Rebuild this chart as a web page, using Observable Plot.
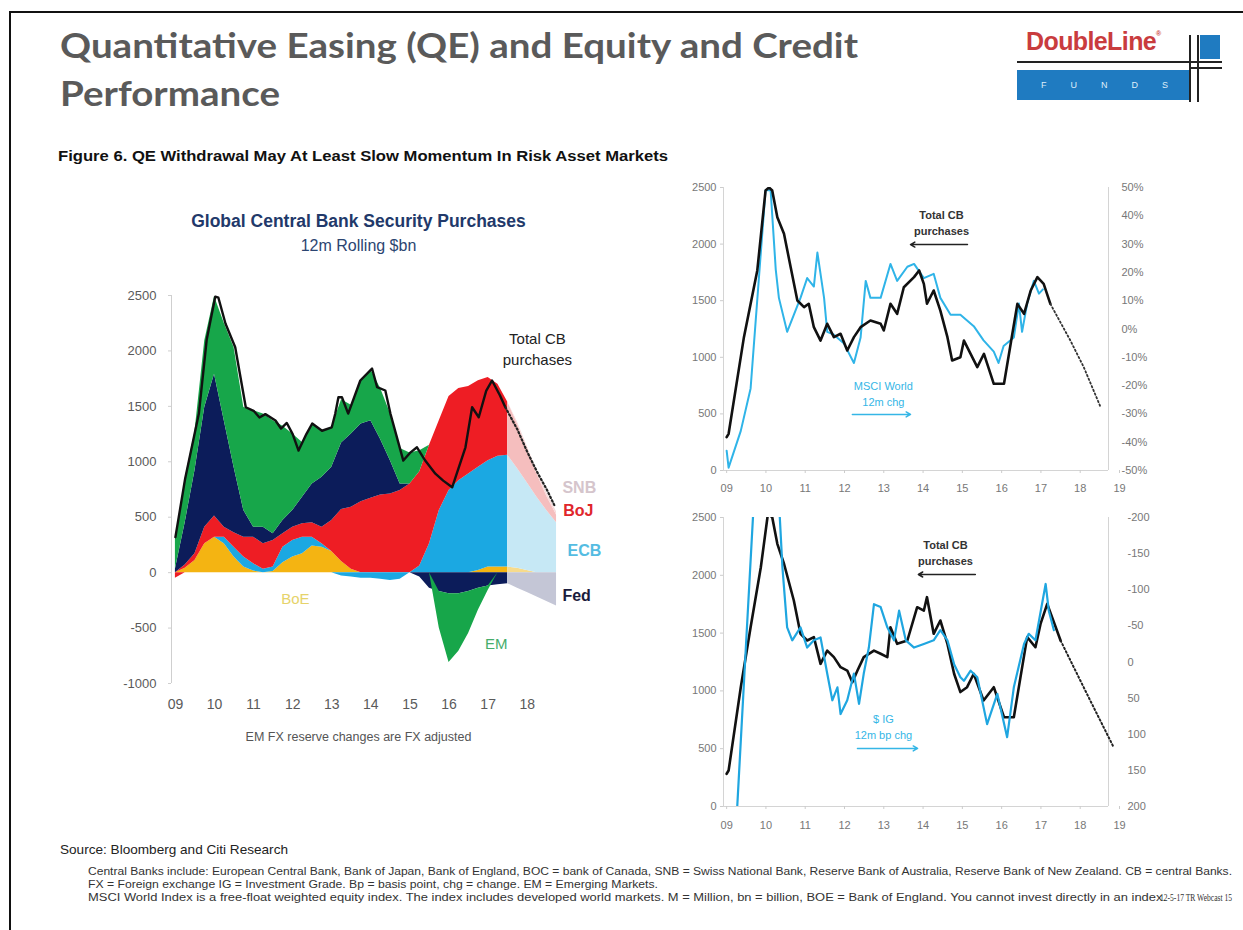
<!DOCTYPE html>
<html><head><meta charset="utf-8">
<script src="https://cdn.jsdelivr.net/npm/d3@7"></script>
<script src="https://cdn.jsdelivr.net/npm/@observablehq/plot@0.6"></script>
<style>
html,body{margin:0;padding:0;background:#fff;}
body{width:1243px;height:930px;position:relative;overflow:hidden;font-family:"Liberation Sans",Arial,sans-serif;}
.abs{position:absolute;white-space:nowrap;}
.fit{transform-origin:left center;}
#borderTop{left:9px;top:11px;width:1234px;height:2px;background:#111;}
#borderLeft{left:9px;top:11px;width:2px;height:919px;background:#111;}
#title1,#title2{left:60px;font-family:Lato,sans-serif;font-weight:700;font-size:34px;line-height:40px;color:#5a5a5a;}
#title1{top:25px;} #title2{top:73px;}
#logoText{left:1026px;top:27px;font-weight:700;font-size:25px;color:#C93C3E;letter-spacing:-0.6px;}
#logoText sup{font-size:7px;vertical-align:top;position:relative;top:3px;}
#logoLine1{left:1017px;top:61px;width:205px;height:2px;background:#222;}
#logoLine2{left:1190px;top:67px;width:32px;height:2px;background:#222;}
#logoBox{left:1017px;top:70px;width:173px;height:30px;background:#1F7BC1;color:#dfeefa;font-size:9px;line-height:31px;text-align:center;letter-spacing:24px;text-indent:24px;}
#logoV1{left:1189px;top:35px;width:2px;height:67px;background:#222;}
#logoV2{left:1197px;top:35px;width:2px;height:67px;background:#222;}
#logoBar{left:1200px;top:35px;width:20px;height:24px;background:#1F7BC1;}
#fig{left:58px;top:148px;font-weight:700;font-size:14px;color:#111;}
#lt1{left:100px;top:211px;width:517px;text-align:center;font-weight:700;font-size:17.5px;color:#22396A;}
#lt2{left:100px;top:237px;width:517px;text-align:center;font-size:16px;color:#2C4571;}
#lnote{left:100px;top:730px;width:517px;text-align:center;font-size:12.5px;color:#555;}
#src{left:60px;top:842px;font-size:13.5px;color:#222;}
.foot{left:88px;font-size:10px;color:#333;}
#f1{top:866px;} #f2{top:879px;} #f3{top:892px;}
#web{left:1160px;top:891px;font-size:11px;color:#333;font-family:"Liberation Serif",serif;}
#leftChart{left:100px;top:280px;}
#topChart{left:640px;top:175px;}
#botChart{left:640px;top:505px;}
</style></head>
<body>
<div class="abs" id="borderTop"></div>
<div class="abs" id="borderLeft"></div>
<div class="abs fit" id="title1">Quantitative Easing (QE) and Equity and Credit</div>
<div class="abs fit" id="title2">Performance</div>
<div class="abs" id="logoText">DoubleLine<sup>®</sup></div>
<div class="abs" id="logoLine1"></div>
<div class="abs" id="logoLine2"></div>
<div class="abs" id="logoBox">FUNDS</div>
<div class="abs" id="logoV1"></div>
<div class="abs" id="logoV2"></div>
<div class="abs" id="logoBar"></div>
<div class="abs fit" id="fig">Figure 6. QE Withdrawal May At Least Slow Momentum In Risk Asset Markets</div>
<div class="abs" id="lt1">Global Central Bank Security Purchases</div>
<div class="abs" id="lt2">12m Rolling $bn</div>
<div class="abs" id="lnote">EM FX reserve changes are FX adjusted</div>
<div class="abs fit" id="src">Source: Bloomberg and Citi Research</div>
<div class="abs fit foot" id="f1">Central Banks include: European Central Bank, Bank of Japan,  Bank of England, BOC = bank of Canada,  SNB = Swiss National Bank, Reserve Bank of Australia, Reserve Bank of  New Zealand.  CB = central Banks.</div>
<div class="abs fit foot" id="f2">FX = Foreign exchange IG = Investment Grade. Bp = basis point, chg = change. EM = Emerging Markets.</div>
<div class="abs fit foot" id="f3">MSCI World  Index is a free-float weighted equity index. The index includes developed world markets. M = Million, bn = billion, BOE = Bank of England. You cannot  invest directly in an index.</div>
<div class="abs fit" id="web">12-5-17 TR Webcast 15</div>
<div class="abs" id="leftChart"></div>
<div class="abs" id="topChart"></div>
<div class="abs" id="botChart"></div>
<script>
// ---------------- LEFT CHART DATA (12m rolling $bn) ----------------
const tQ = [2009.00,2009.25,2009.50,2009.75,2010.00,2010.25,2010.50,2010.75,2011.00,2011.25,2011.50,2011.75,2012.00,2012.25,2012.50,2012.75,2013.00,2013.25,2013.50,2013.75,2014.00,2014.25,2014.50,2014.75,2015.00,2015.25,2015.50,2015.75,2016.00,2016.25,2016.50,2016.75,2017.00,2017.25,2017.50];
const boe = [0,40,110,260,320,260,140,50,15,0,10,90,140,170,240,230,190,100,30,0,0,0,0,0,0,0,0,0,0,0,0,20,50,50,50];
const ecb = [0,0,0,0,0,60,90,90,65,30,40,140,150,150,80,30,0,-30,-40,-50,-50,-60,-70,-60,0,60,260,560,740,830,890,930,960,1000,1010];
const boj = [-50,30,60,150,190,90,130,180,240,230,240,120,120,120,130,150,280,470,560,640,670,700,710,740,800,850,890,810,850,830,790,780,750,650,480];
const fed = [30,380,750,1080,1280,960,590,240,90,150,60,120,150,240,350,450,480,600,660,700,700,500,300,60,0,-40,-140,-170,-190,-190,-170,-140,-120,-110,-100];
const em  = [270,400,350,600,700,880,1080,930,1050,1020,1020,850,690,495,540,420,360,390,260,400,460,460,425,320,280,190,0,-330,-620,-520,-380,-200,-40,0,0];

// projection (lighter colours)
const tP    = [2017.50,2017.75,2018.00,2018.25,2018.50,2018.75];
const boeP  = [50,40,20,0,0,0];
const ecbP  = [1010,900,790,680,560,450];
const bojP  = [480,400,300,210,130,70];
const snbP  = [0,20,30,30,30,30];
const fedP  = [-100,-140,-180,-220,-260,-300];

// Total CB purchases (black line)
const tTot  = [2009.00,2009.25,2009.60,2009.80,2010.02,2010.10,2010.28,2010.53,2010.80,2011.00,2011.15,2011.30,2011.56,2011.70,2011.85,2012.00,2012.15,2012.35,2012.50,2012.75,2013.00,2013.09,2013.17,2013.26,2013.42,2013.73,2014.03,2014.16,2014.37,2014.50,2014.83,2015.00,2015.18,2015.39,2015.65,2015.85,2016.08,2016.42,2016.59,2016.76,2016.95,2017.10,2017.30,2017.44];
const total = [320,850,1435,2100,2490,2480,2247,2033,1492,1460,1400,1430,1372,1300,1350,1250,1101,1250,1345,1280,1311,1435,1582,1582,1435,1733,1841,1673,1643,1435,1011,1080,1131,1011,893,830,770,1131,1492,1402,1640,1733,1600,1492];
const tTotP  = [2017.44,2017.75,2018.00,2018.25,2018.50,2018.72];
const totalP = [1492,1290,1090,910,750,589];

const leftTicksY = [-1000,-500,0,500,1000,1500,2000,2500];
const yearTicks = [2009,2010,2011,2012,2013,2014,2015,2016,2017,2018];

const solidColor = {BoE:"#F4B412", ECB:"#1BA8E2", BoJ:"#EE1D24", Fed:"#0C1C5A", EM:"#17A64A"};
const projColor  = {BoE:"#F7DB8C", ECB:"#C6E8F5", BoJ:"#F5BEBE", SNB:"#F8DADA", Fed:"#C4C6D6"};

// ---------------- RIGHT TOP: MSCI World 12m chg (%) ----------------
const tCbTop = [2009.00,2009.05,2009.44,2009.78,2009.99,2010.08,2010.16,2010.29,2010.46,2010.63,2010.80,2010.97,2011.09,2011.22,2011.39,2011.56,2011.73,2011.90,2012.07,2012.24,2012.41,2012.66,2012.92,2013.00,2013.17,2013.34,2013.51,2013.77,2013.90,2014.02,2014.10,2014.27,2014.44,2014.62,2014.74,2014.95,2015.04,2015.21,2015.38,2015.55,2015.80,2016.06,2016.23,2016.40,2016.57,2016.74,2016.91,2017.07,2017.24];
const cbTop  = [294,324,1178,1767,2473,2500,2473,2238,2091,1796,1502,1443,1473,1266,1148,1296,1178,1208,1060,1178,1266,1325,1296,1237,1473,1384,1619,1708,1767,1649,1473,1590,1413,1178,972,1001,1148,1031,913,1031,766,766,1119,1472,1384,1590,1708,1649,1472];
const tCbTopP = [2017.24,2017.75,2018.09,2018.52];
const cbTopP  = [1472,1148,913,559];
const tMsci = [2009.00,2009.05,2009.36,2009.61,2009.87,2009.99,2010.12,2010.25,2010.33,2010.54,2010.71,2010.88,2011.05,2011.22,2011.31,2011.48,2011.56,2011.73,2011.98,2012.24,2012.41,2012.54,2012.66,2012.92,2013.17,2013.34,2013.60,2013.77,2014.02,2014.27,2014.44,2014.70,2014.95,2015.29,2015.54,2015.80,2015.92,2016.05,2016.31,2016.44,2016.52,2016.65,2016.82,2016.95,2017.05];
const msciPct = [-43,-49,-36,-21,27,49,49,21,11,-1,5,11,18,15,27,11,-1,-2,-5,-12,-3,17,11,11,23,17,22,23,18,19.5,11,5,5,1,-4,-8,-12,-6,-3,9,-1,9,17,12.5,14];
const pctTicks = [-50,-40,-30,-20,-10,0,10,20,30,40,50];

// ---------------- RIGHT BOTTOM: $ IG 12m bp chg ----------------
const tCbBot = [2009.00,2009.05,2009.36,2009.61,2009.87,2010.05,2010.16,2010.29,2010.46,2010.71,2010.88,2011.05,2011.22,2011.39,2011.56,2011.73,2011.90,2012.07,2012.20,2012.33,2012.49,2012.75,2012.92,2013.09,2013.17,2013.34,2013.60,2013.85,2014.02,2014.10,2014.27,2014.44,2014.62,2014.79,2014.95,2015.12,2015.29,2015.54,2015.80,2016.06,2016.31,2016.48,2016.65,2016.86,2016.99,2017.16,2017.50];
const cbBot  = [283,311,1032,1551,2070,2530,2503,2272,2100,1782,1494,1436,1465,1234,1349,1292,1205,1176,1075,1176,1292,1349,1321,1292,1551,1407,1436,1724,1695,1811,1494,1609,1407,1148,990,1032,1148,917,1032,772,772,1119,1465,1378,1580,1753,1436];
const tCbBotP = [2017.50,2018.17,2018.85];
const cbBotP  = [1436,975,513];
const tIG = [2009.15,2009.27,2009.48,2009.70,2010.00,2010.33,2010.42,2010.54,2010.67,2010.88,2011.05,2011.22,2011.39,2011.56,2011.69,2011.82,2011.90,2012.07,2012.24,2012.37,2012.49,2012.62,2012.75,2012.92,2013.09,2013.26,2013.39,2013.56,2013.77,2014.02,2014.27,2014.44,2014.62,2014.79,2014.95,2015.04,2015.21,2015.38,2015.63,2015.89,2016.14,2016.31,2016.57,2016.69,2016.86,2017.12,2017.20,2017.33];
const igBp = [300,200,-11,-230,-300,-224,-131,-48,-30,-48,-20,-30,-34,16,53,35,72,53,16,58,16,-20,-80,-76,-48,-30,-71,-30,-20,-25,-30,-44,-30,3,21,26,12,21,86,44,104,35,-25,-39,-30,-108,-71,-44];
const bpTicks = [200,150,100,50,0,-50,-100,-150,-200];
const cbTicks = [0,500,1000,1500,2000,2500];
const yearTicksR = [2009,2010,2011,2012,2013,2014,2015,2016,2017,2018,2019];

// ---------------- build rows ----------------
function stackRows(ts, series, colors, sign) {
  const out = [];
  for (const [bank, vals] of Object.entries(series)) {
    vals.forEach((v, i) => out.push({t: ts[i], bank, col: colors[bank], v: sign > 0 ? Math.max(v, 0) : Math.min(v, 0)}));
  }
  return out;
}
const solidSeries = {BoE: boe, ECB: ecb, BoJ: boj, Fed: fed, EM: em};
const projSeries  = {BoE: boeP, ECB: ecbP, BoJ: bojP, SNB: snbP, Fed: fedP};
const zip = (ts, vs) => ts.map((t, i) => ({t, v: vs[i]}));

const baseStyle = {fontFamily: '"Liberation Sans", Arial, sans-serif', background: "transparent", overflow: "visible"};
const yr2 = d => String(d).slice(2);
const plain = d => String(d);

// left chart annotations
const leftLabelsStart = [
  {label: "SNB", t: 2018.90, v: 768, color: "#D5C5CC"},
  {label: "BoJ", t: 2018.92, v: 561, color: "#E0262C"},
  {label: "ECB", t: 2019.03, v: 200, color: "#54BCE2"},
  {label: "Fed", t: 2018.90, v: -206, color: "#1A1C3C"}
];
const leftLabelsMid = [
  {label: "EM", t: 2017.21, v: -630, color: "#45AD6C"},
  {label: "BoE", t: 2012.07, v: -224, color: "#E6D36A"},
  {label: "Total CB\npurchases", t: 2018.26, v: 2026, color: "#222"}
];

const xdL = [2008.9, 2018.8];
const leftPlot = Plot.plot({
  width: 520, height: 440, marginLeft: 71, marginRight: 62, marginTop: 15, marginBottom: 37,
  x: {domain: xdL, label: null}, y: {domain: [-1000, 2500], label: null},
  color: {type: "identity"},
  style: {...baseStyle, color: "#5a5a5a"},
  marks: [
    Plot.areaY(stackRows(tQ, solidSeries, solidColor, 1), {x: "t", y: "v", z: "bank", fill: "col"}),
    Plot.areaY(stackRows(tQ, solidSeries, solidColor, -1), {x: "t", y: "v", z: "bank", fill: "col"}),
    Plot.areaY(stackRows(tP, projSeries, projColor, 1), {x: "t", y: "v", z: "bank", fill: "col"}),
    Plot.areaY(stackRows(tP, projSeries, projColor, -1), {x: "t", y: "v", z: "bank", fill: "col"}),
    Plot.ruleX([xdL[0]], {stroke: "#cfcfcf"}),
    Plot.axisY({ticks: leftTicksY, tickFormat: plain, tickSize: 3, tickPadding: 12, fontSize: 13, stroke: "#cfcfcf"}),
    Plot.axisX({ticks: yearTicks, tickFormat: yr2, tickSize: 0, tickPadding: 16, fontSize: 14}),
    Plot.lineY(zip(tTot, total), {x: "t", y: "v", stroke: "#111", strokeWidth: 2.4}),
    Plot.lineY(zip(tTotP, totalP), {x: "t", y: "v", stroke: "#222", strokeWidth: 2.2, strokeDasharray: "1.5,2.5"}),
    Plot.text(leftLabelsStart, {x: "t", y: "v", text: "label", fill: "color", textAnchor: "start", fontSize: 16, fontWeight: 600}),
    Plot.text(leftLabelsMid, {x: "t", y: "v", text: "label", fill: "color", textAnchor: "middle", fontSize: 15, lineHeight: 1.35})
  ]
});
document.getElementById("leftChart").append(leftPlot);

// right charts
const xdR = [2008.92, 2019];
const rightEdge = 2018.72;
const pctToV = p => (p + 50) * 25;
const bpToV = b => (200 - b) * 6.25;

const topNotes = [{label: "Total CB\npurchases", t: 2014.47, v: 2195, color: "#333"}];
const topNotes2 = [{label: "MSCI World\n12m chg", t: 2012.99, v: 685, color: "#35B6E6"}];
const topArrows = [{x1: 2015.13, x2: 2013.68, y: 1996, color: "#222"}, {x1: 2012.20, x2: 2013.68, y: 495, color: "#35B6E6"}];

const topPlot = Plot.plot({
  width: 540, height: 320, marginLeft: 83, marginRight: 61, marginTop: 12, marginBottom: 25,
  x: {domain: xdR, label: null}, y: {domain: [0, 2500], label: null},
  style: {...baseStyle, color: "#777"},
  marks: [
    Plot.ruleX([xdR[0], rightEdge], {stroke: "#d4d4d4"}),
    Plot.ruleY([0], {x1: xdR[0], x2: rightEdge, stroke: "#d4d4d4"}),
    Plot.axisY({anchor: "left", ticks: cbTicks, tickFormat: plain, tickSize: 3, tickPadding: 4, fontSize: 11, stroke: "#ccc"}),
    Plot.axisY({anchor: "right", ticks: pctTicks.map(pctToV), tickFormat: v => `${v / 25 - 50}%`, tickSize: 0, tickPadding: 2, fontSize: 11}),
    Plot.axisX({ticks: yearTicksR, tickFormat: yr2, tickSize: 3, tickPadding: 11, fontSize: 11, stroke: "#ccc"}),
    Plot.lineY(tMsci.map((t, i) => ({t, v: pctToV(msciPct[i])})), {x: "t", y: "v", stroke: "#2FB4E8", strokeWidth: 2}),
    Plot.lineY(zip(tCbTop, cbTop), {x: "t", y: "v", stroke: "#111", strokeWidth: 2.6, clip: true}),
    Plot.lineY(zip(tCbTopP, cbTopP), {x: "t", y: "v", stroke: "#333", strokeWidth: 1.8, strokeDasharray: "1.5,2.5"}),
    Plot.text(topNotes, {x: "t", y: "v", text: "label", fill: "color", fontSize: 11, fontWeight: "bold", lineHeight: 1.45}),
    Plot.text(topNotes2, {x: "t", y: "v", text: "label", fill: "color", fontSize: 11, lineHeight: 1.45}),
    Plot.arrow(topArrows, {x1: "x1", x2: "x2", y1: "y", y2: "y", stroke: "color", bend: 0, headLength: 5, strokeWidth: 1.5})
  ]
});
document.getElementById("topChart").append(topPlot);

const botNotes = [{label: "Total CB\npurchases", t: 2014.57, v: 2202, color: "#333"}];
const botNotes2 = [{label: "$ IG\n12m bp chg", t: 2012.99, v: 696, color: "#35B6E6"}];
const botArrows = [{x1: 2015.33, x2: 2013.88, y: 2007, color: "#222"}, {x1: 2012.33, x2: 2013.86, y: 502, color: "#35B6E6"}];

const botPlot = Plot.plot({
  width: 540, height: 330, marginLeft: 83, marginRight: 61, marginTop: 12, marginBottom: 29,
  x: {domain: xdR, label: null}, y: {domain: [0, 2500], label: null},
  style: {...baseStyle, color: "#777"},
  marks: [
    Plot.ruleX([xdR[0], rightEdge], {stroke: "#d4d4d4"}),
    Plot.ruleY([0], {x1: xdR[0], x2: rightEdge, stroke: "#d4d4d4"}),
    Plot.axisY({anchor: "left", ticks: cbTicks, tickFormat: plain, tickSize: 3, tickPadding: 4, fontSize: 11, stroke: "#ccc"}),
    Plot.axisY({anchor: "right", ticks: bpTicks.map(bpToV), tickFormat: v => String(Math.round(200 - v / 6.25)), tickSize: 0, tickPadding: 8, fontSize: 11}),
    Plot.axisX({ticks: yearTicksR, tickFormat: yr2, tickSize: 3, tickPadding: 12, fontSize: 11, stroke: "#ccc"}),
    Plot.lineY(zip(tCbBot, cbBot), {x: "t", y: "v", stroke: "#111", strokeWidth: 2.6, clip: true}),
    Plot.lineY(tIG.map((t, i) => ({t, v: bpToV(igBp[i])})), {x: "t", y: "v", stroke: "#1FA6E0", strokeWidth: 2.2, clip: true}),
    Plot.lineY(zip(tCbBotP, cbBotP), {x: "t", y: "v", stroke: "#222", strokeWidth: 2, strokeDasharray: "1.5,2.5"}),
    Plot.text(botNotes, {x: "t", y: "v", text: "label", fill: "color", fontSize: 11, fontWeight: "bold", lineHeight: 1.45}),
    Plot.text(botNotes2, {x: "t", y: "v", text: "label", fill: "color", fontSize: 11, lineHeight: 1.45}),
    Plot.arrow(botArrows, {x1: "x1", x2: "x2", y1: "y", y2: "y", stroke: "color", bend: 0, headLength: 5, strokeWidth: 1.5})
  ]
});
document.getElementById("botChart").append(botPlot);

// fit slide texts to the widths they occupy in the reference
function fit(id, w) {
  const el = document.getElementById(id);
  const r = el.getBoundingClientRect().width;
  const s = w / r;
  el.style.transform = `scaleX(${s})`;
  return s;
}
const ts = fit("title1", 798);
document.getElementById("title2").style.transform = `scaleX(${ts})`;
fit("fig", 610);
fit("src", 228);
fit("f1", 1144);
fit("f2", 570);
fit("f3", 1078);
fit("web", 72);
</script>
</body></html>
